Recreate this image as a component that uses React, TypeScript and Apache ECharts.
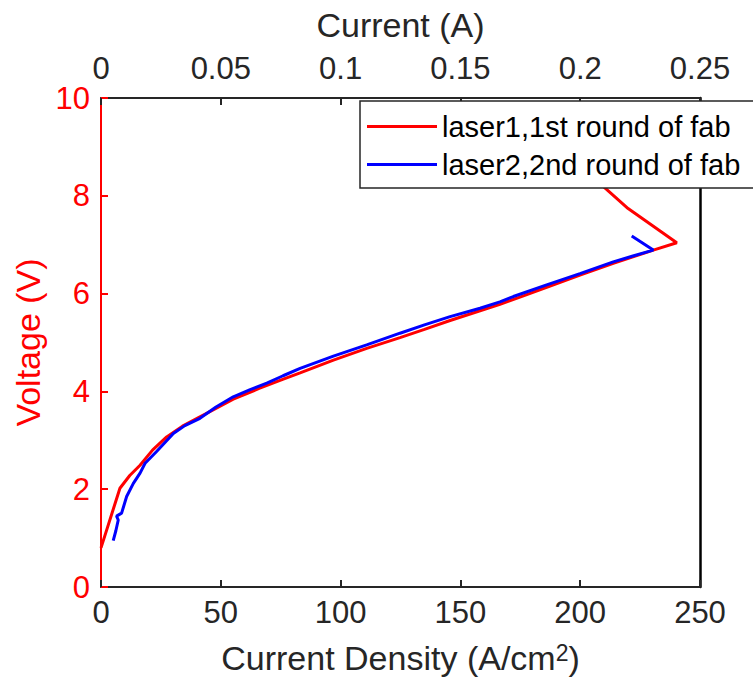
import React, { useEffect, useRef } from "react";
import * as echarts from "echarts";

const densityTicks = [0, 50, 100, 150, 200, 250];
const currentTicks = ["0", "0.05", "0.1", "0.15", "0.2", "0.25"];
const voltageTicks = [0, 2, 4, 6, 8, 10];

const seriesNames = ["laser1,1st round of fab", "laser2,2nd round of fab"];

const laser1Density = [0, 7.9, 12, 16.3, 21.5, 27.4, 34, 41.3, 55.2, 66, 76.1, 83.1, 97, 110.9, 124.8, 135, 145.7, 158.2, 166.5, 176, 186, 199.9, 213.8, 222, 230.5, 240.3, 220, 210.3, 195, 180];
const laser1Voltage = [0.8, 2.02, 2.28, 2.49, 2.8, 3.07, 3.29, 3.48, 3.84, 4.06, 4.25, 4.38, 4.64, 4.88, 5.1, 5.27, 5.45, 5.65, 5.78, 5.95, 6.13, 6.38, 6.62, 6.75, 6.89, 7.04, 7.74, 8.16, 8.9, 9.7];

const laser2Density = [5.1, 6.2, 7.2, 6.5, 8.6, 10.7, 13.5, 16.3, 18.4, 23.2, 30.2, 35, 41.3, 48, 55.2, 62, 69.2, 76, 83.1, 97, 110.9, 124.8, 135, 145.7, 158.2, 166.5, 172.1, 186, 199.9, 213.8, 222, 230.5, 221.5];
const laser2Voltage = [0.95, 1.15, 1.37, 1.45, 1.51, 1.85, 2.12, 2.33, 2.53, 2.77, 3.14, 3.3, 3.45, 3.68, 3.89, 4.03, 4.17, 4.32, 4.47, 4.72, 4.95, 5.19, 5.36, 5.53, 5.7, 5.83, 5.94, 6.18, 6.41, 6.65, 6.77, 6.89, 7.18];

const FONT = "'Liberation Sans', Arial, Helvetica, sans-serif";
const INK = "#262626";

export default function App() {
  const ref = useRef<HTMLDivElement>(null);
  useEffect(() => {
    if (!ref.current) return;
    const chart = echarts.init(ref.current, null, { renderer: "svg" });
    const pairs = (xs: number[], ys: number[]) => xs.map((x, i) => [x, ys[i]]);
    const option: any = {
      animation: false,
      textStyle: { fontFamily: FONT },
      grid: { left: 101, top: 98, width: 599, height: 489, containLabel: false },
      graphic: [
        {
          type: "rect",
          z: 5,
          shape: { x: 360, y: 101, width: 440, height: 87 },
          style: { fill: "#ffffff", stroke: INK, lineWidth: 1.5 },
        },
      ],
      xAxis: [
        {
          type: "value",
          position: "bottom",
          min: densityTicks[0],
          max: densityTicks[densityTicks.length - 1],
          interval: densityTicks[1] - densityTicks[0],
          name: "Current Density (A/cm{sup|2})",
          nameLocation: "middle",
          nameGap: 54,
          nameTextStyle: {
            fontSize: 34,
            color: INK,
            fontFamily: FONT,
            rich: { sup: { fontSize: 23, color: INK, fontFamily: FONT, verticalAlign: "top", lineHeight: 23 } },
          },
          axisLine: { show: true, onZero: false, lineStyle: { color: INK, width: 2 } },
          axisTick: { show: true, inside: true, length: 7, lineStyle: { color: INK, width: 2 } },
          axisLabel: { fontSize: 31, color: INK, margin: 10, fontFamily: FONT },
          splitLine: { show: false },
        },
        {
          type: "value",
          position: "top",
          min: 0,
          max: 0.25,
          interval: 0.05,
          name: "Current (A)",
          nameLocation: "middle",
          nameGap: 56,
          nameTextStyle: { fontSize: 34, color: INK, fontFamily: FONT },
          axisLine: { show: true, onZero: false, lineStyle: { color: INK, width: 2 } },
          axisTick: { show: true, inside: true, length: 7, lineStyle: { color: INK, width: 2 } },
          axisLabel: {
            fontSize: 31,
            color: INK,
            margin: 14,
            fontFamily: FONT,
            formatter: (v: number) => {
              const idx = Math.round(v / 0.05);
              return currentTicks[idx] ?? String(v);
            },
          },
          splitLine: { show: false },
        },
      ],
      yAxis: [
        {
          type: "value",
          position: "left",
          min: voltageTicks[0],
          max: voltageTicks[voltageTicks.length - 1],
          interval: voltageTicks[1] - voltageTicks[0],
          name: "Voltage (V)",
          nameLocation: "middle",
          nameGap: 54,
          nameTextStyle: { fontSize: 34, color: "#ff0000", fontFamily: FONT },
          axisLine: { show: true, onZero: false, lineStyle: { color: "#ff0000", width: 2 } },
          axisTick: { show: true, inside: true, length: 7, lineStyle: { color: "#ff0000", width: 2 } },
          axisLabel: { fontSize: 31, color: "#ff0000", margin: 11, fontFamily: FONT },
          splitLine: { show: false },
        },
        {
          type: "value",
          position: "right",
          min: 0,
          max: 10,
          axisLine: { show: true, onZero: false, lineStyle: { color: "#000", width: 2.5 } },
          axisTick: { show: false },
          axisLabel: { show: false },
          splitLine: { show: false },
        },
      ],
      legend: {
        show: true,
        z: 10,
        orient: "vertical",
        left: 360,
        top: 101,
        padding: [11, 0, 8, 7],
        itemGap: 9,
        itemWidth: 70,
        itemHeight: 3,
        icon: "rect",
        selectedMode: false,
        backgroundColor: "rgba(0,0,0,0)",
        borderColor: "rgba(0,0,0,0)",
        borderWidth: 0,
        textStyle: { fontSize: 29, color: "#000", fontFamily: FONT },
        data: seriesNames,
      },
      series: [
        {
          name: seriesNames[0],
          type: "line",
          xAxisIndex: 0,
          yAxisIndex: 0,
          data: pairs(laser1Density, laser1Voltage),
          showSymbol: false,
          symbol: "none",
          lineStyle: { color: "#ff0000", width: 3 },
          itemStyle: { color: "#ff0000" },
          z: 2,
        },
        {
          name: seriesNames[1],
          type: "line",
          xAxisIndex: 0,
          yAxisIndex: 0,
          data: pairs(laser2Density, laser2Voltage),
          showSymbol: false,
          symbol: "none",
          lineStyle: { color: "#0000ff", width: 3 },
          itemStyle: { color: "#0000ff" },
          z: 3,
        },
      ],
    };
    chart.setOption(option);
    return () => chart.dispose();
  }, []);
  return <div ref={ref} style={{ width: 753, height: 687, position: "absolute", left: 0, top: 0 }} />;
}
